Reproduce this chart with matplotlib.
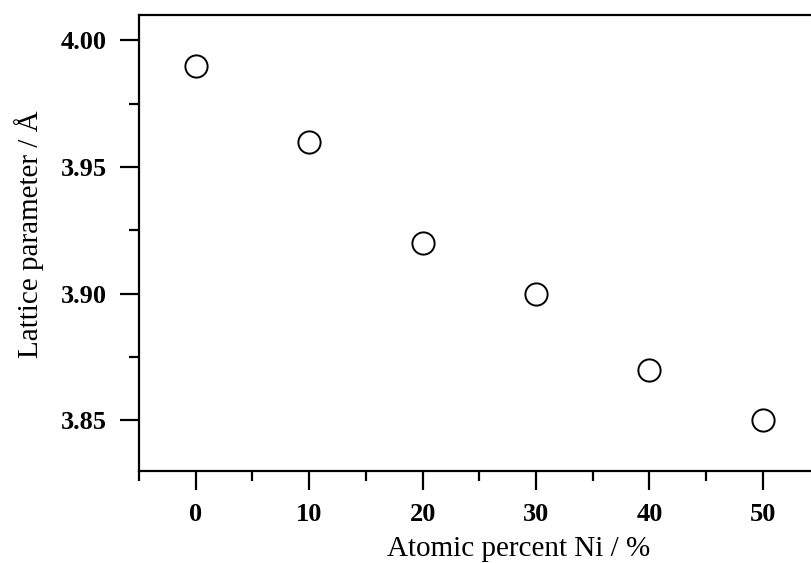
# plot.py
# Lattice parameter vs. Ni content, scatter with open circles.
import matplotlib
matplotlib.use("Agg")
import matplotlib.pyplot as plt
from matplotlib.ticker import MultipleLocator

ni_percent = [0, 10, 20, 30, 40, 50]
lattice_param = [3.99, 3.96, 3.92, 3.90, 3.87, 3.85]
x_ticks = [0, 10, 20, 30, 40, 50]
y_ticks = [3.85, 3.90, 3.95, 4.00]

plt.rcParams["font.family"] = ["Liberation Serif", "DejaVu Serif"]

W, H = 811, 563
fig = plt.figure(figsize=(W / 100, H / 100), dpi=100)
# the source image is cropped on the right, so the axes run past the figure
left, right, top, bottom = 139, 899, 15, 471
ax = fig.add_axes([left / W, 1 - bottom / H, (right - left) / W, (bottom - top) / H])

ax.plot(ni_percent, lattice_param, linestyle="none", marker="o",
        markersize=16, markerfacecolor="white", markeredgecolor="black",
        markeredgewidth=1.4)

ax.set_xlim(-5, 62)
ax.set_ylim(3.83, 4.01)
ax.set_xticks(x_ticks)
ax.set_yticks(y_ticks)
ax.set_yticklabels([f"{v:.2f}" for v in y_ticks])
ax.xaxis.set_minor_locator(MultipleLocator(5))
ax.yaxis.set_minor_locator(MultipleLocator(0.025))

for side in ["left", "bottom", "top"]:
    ax.spines[side].set_linewidth(1.6)
ax.spines["right"].set_visible(False)

ax.tick_params(which="major", direction="out", length=14, width=1.6,
               labelsize=19, pad=9)
ax.tick_params(which="minor", direction="out", length=7, width=1.6)
for lbl in ax.get_xticklabels() + ax.get_yticklabels():
    lbl.set_fontweight("bold")

ax.set_xlabel("Atomic percent Ni / %", fontsize=21)
ax.set_ylabel("Lattice parameter / Å", fontsize=21)
ax.xaxis.set_label_coords(0.5, -(536 - bottom) / (bottom - top))
ax.yaxis.set_label_coords(-(left - 44) / (right - left), (bottom - 234) / (bottom - top))

fig.savefig("out.png", dpi=100)
